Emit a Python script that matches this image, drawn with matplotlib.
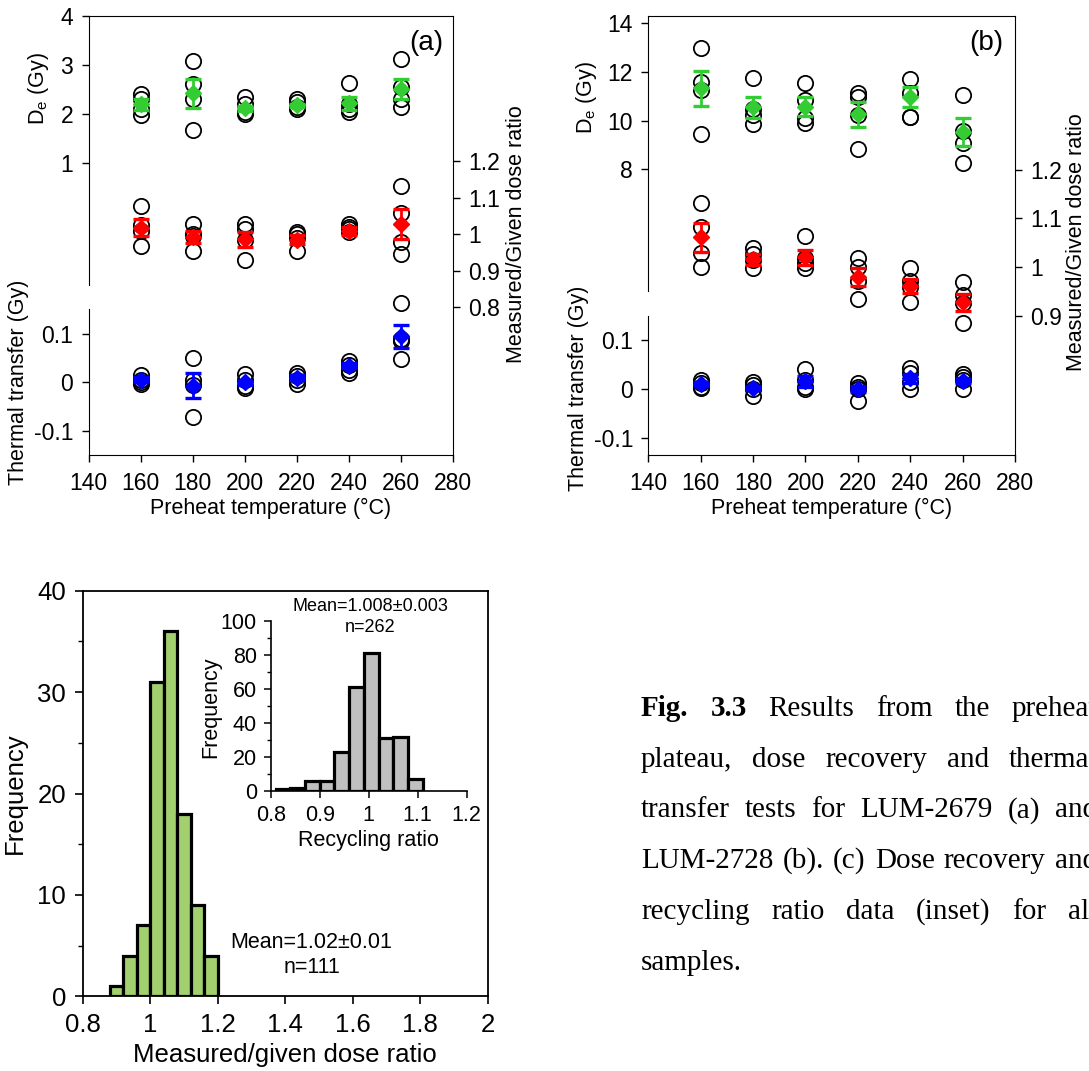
import matplotlib
matplotlib.use('Agg')
import matplotlib.pyplot as plt
from matplotlib import ticker

plt.rcParams['font.family'] = ['Liberation Sans', 'DejaVu Sans']
plt.rcParams['mathtext.default'] = 'regular'

# ---------------- data ----------------
temps = [160, 180, 200, 220, 240, 260]

# panel (a) LUM-2679
a_de_pts = [[2.40, 2.30, 2.10, 1.98], [3.09, 2.62, 2.30, 1.67], [2.34, 2.20, 2.05, 1.99],
            [2.30, 2.25, 2.15, 2.10], [2.63, 2.20, 2.10, 2.05], [3.12, 2.55, 2.30, 2.14]]
a_de_mean = [2.20, 2.42, 2.12, 2.18, 2.22, 2.51]
a_de_err = [0.11, 0.30, 0.05, 0.03, 0.13, 0.21]
a_r_pts = [[1.078, 1.025, 1.010, 0.969], [1.028, 1.000, 0.994, 0.955], [1.027, 1.015, 0.985, 0.930],
           [1.005, 1.000, 0.990, 0.955], [1.028, 1.020, 1.014, 1.005], [1.133, 1.057, 0.980, 0.945]]
a_r_mean = [1.018, 0.992, 0.986, 0.985, 1.010, 1.028]
a_r_err = [0.023, 0.016, 0.021, 0.012, 0.011, 0.041]
a_tt_pts = [[0.014, 0.005, 0.0, -0.003], [0.050, 0.005, -0.005, -0.072], [0.017, 0.005, -0.008, -0.012],
            [0.020, 0.012, 0.005, -0.003], [0.044, 0.035, 0.025, 0.020], [0.163, 0.090, 0.085, 0.048]]
a_tt_mean = [0.005, -0.0075, 0.0, 0.0095, 0.034, 0.095]
a_tt_err = [0.005, 0.026, 0.005, 0.005, 0.005, 0.024]

# panel (b) LUM-2728
b_de_pts = [[12.97, 11.60, 11.26, 9.45], [11.77, 10.50, 10.23, 9.86], [11.56, 10.85, 10.10, 9.89],
            [11.15, 10.96, 10.23, 8.85], [11.71, 11.12, 10.14, 10.14], [11.05, 9.59, 9.07, 8.27]]
b_de_mean = [11.33, 10.55, 10.58, 10.26, 10.99, 9.53]
b_de_err = [0.73, 0.42, 0.40, 0.52, 0.41, 0.58]
b_r_pts = [[1.131, 1.083, 1.029, 1.000], [1.039, 1.027, 1.015, 0.998], [1.064, 1.018, 1.008, 0.999],
           [1.018, 1.001, 0.971, 0.935], [0.999, 0.971, 0.959, 0.928], [0.969, 0.943, 0.926, 0.887]]
b_r_mean = [1.061, 1.016, 1.020, 0.980, 0.962, 0.928]
b_r_err = [0.030, 0.011, 0.016, 0.019, 0.015, 0.018]
b_tt_pts = [[0.018, 0.012, 0.005, 0.003], [0.015, 0.008, 0.0, -0.014], [0.042, 0.018, 0.005, 0.0],
            [0.013, 0.005, 0.0, -0.024], [0.044, 0.032, 0.015, 0.001], [0.031, 0.025, 0.018, 0.0]]
b_tt_mean = [0.010, 0.003, 0.016, 0.0, 0.022, 0.017]
b_tt_err = [0.004, 0.004, 0.011, 0.007, 0.009, 0.005]

# panel (c) histograms
dr_edges = [0.88, 0.92, 0.96, 1.00, 1.04, 1.08, 1.12, 1.16, 1.20]
dr_counts = [1, 4, 7, 31, 36, 18, 9, 4]
rr_edges = [0.81, 0.84, 0.87, 0.90, 0.93, 0.96, 0.99, 1.02, 1.05, 1.08, 1.11]
rr_counts = [1, 2, 6, 6, 23, 61, 81, 31, 32, 7]

caption_lines = [["Fig.", "3.3", "Results", "from", "the", "preheat"],
                 ["plateau,", "dose", "recovery", "and", "thermal"],
                 ["transfer", "tests", "for", "LUM-2679", "(a)", "and"],
                 ["LUM-2728", "(b).", "(c)", "Dose", "recovery", "and"],
                 ["recycling", "ratio", "data", "(inset)", "for", "all"],
                 ["samples."]]
caption_bold = {(0, 0), (0, 1)}

GREEN, RED, BLUE = '#33cc33', '#ff0000', '#0000ff'

# ---------------- figure ----------------
W, H = 1089, 1071
fig = plt.figure(figsize=(W / 100, H / 100), dpi=100)


def px_rect(l, t, r, b):
    return [l / W, 1 - b / H, (r - l) / W, (b - t) / H]


fmt = ticker.FuncFormatter(lambda v, p: f'{v:g}')
TICK = dict(direction='out', length=5, width=1, labelsize=16.5, pad=6)


def series(ax, pts, mean, err, color):
    for t, p in zip(temps, pts):
        ax.plot([t] * len(p), p, 'o', ms=11, mfc='none', mec='k', mew=1.3, zorder=2)
    ax.errorbar(temps, mean, yerr=err, fmt='D', ms=8.5, color=color, ecolor=color,
                elinewidth=2, capsize=6, capthick=2.4, zorder=3)


def panel(rect, de, r, tt, de_lim, de_ticks, de_bounds, r_lim, r_ticks, tt_lim, tt_bounds,
          tag, tag_xy, lab_de, lab_tt, lab_r):
    ax = fig.add_axes(rect)
    ax.set_xlim(140, 280)
    ax.set_xticks(range(140, 281, 20))
    ax.set_ylim(*de_lim)
    ax.set_yticks(de_ticks)
    ax.yaxis.set_major_formatter(fmt)
    ax.spines['left'].set_bounds(*de_bounds)
    ax.tick_params(**TICK)
    ax.tick_params(axis='x', pad=7)
    ax.set_xlabel('Preheat temperature (°C)', fontsize=15.5)
    ax.xaxis.set_label_coords(0.5, -0.098)
    ax.set_ylabel('D$_{e}$ (Gy)', fontsize=15.5)
    ax.yaxis.set_label_coords(*lab_de)
    ax.text(tag_xy[0], tag_xy[1], tag, transform=ax.transAxes, fontsize=20,
            ha='center', va='center')
    series(ax, *de, GREEN)

    axt = fig.add_axes(rect, sharex=ax)
    axt.patch.set_visible(False)
    for s in ['top', 'right', 'bottom']:
        axt.spines[s].set_visible(False)
    axt.spines['left'].set_bounds(*tt_bounds)
    axt.set_ylim(*tt_lim)
    axt.set_yticks([-0.1, 0, 0.1])
    axt.yaxis.set_major_formatter(fmt)
    axt.tick_params(**TICK)
    axt.tick_params(axis='x', bottom=False, labelbottom=False)
    axt.set_ylabel('Thermal transfer (Gy)', fontsize=15.5)
    axt.yaxis.set_label_coords(*lab_tt)
    series(axt, *tt, BLUE)

    axr = fig.add_axes(rect, sharex=ax)
    axr.patch.set_visible(False)
    for s in ['top', 'left', 'bottom', 'right']:
        axr.spines[s].set_visible(False)
    axr.yaxis.tick_right()
    axr.yaxis.set_label_position('right')
    axr.set_ylim(*r_lim)
    axr.set_yticks(r_ticks)
    axr.yaxis.set_major_formatter(fmt)
    axr.tick_params(**TICK)
    axr.tick_params(axis='x', bottom=False, labelbottom=False)
    axr.set_ylabel('Measured/Given dose ratio', fontsize=15.5)
    axr.yaxis.set_label_coords(*lab_r)
    series(axr, *r, RED)


panel(px_rect(88.5, 16, 453, 455),
      (a_de_pts, a_de_mean, a_de_err), (a_r_pts, a_r_mean, a_r_err), (a_tt_pts, a_tt_mean, a_tt_err),
      (-4.96, 4.0), [1, 2, 3, 4], (-1.5, 4.0),
      (0.395, 1.598), [0.8, 0.9, 1.0, 1.1, 1.2],
      (-0.15, 0.755), (-0.15, 0.15),
      '(a)', (0.926, 0.938), (-0.103, 0.834), (-0.163, 0.166), (1.145, 0.503))

panel(px_rect(648.3, 16, 1015, 455),
      (b_de_pts, b_de_mean, b_de_err), (b_r_pts, b_r_mean, b_r_err), (b_tt_pts, b_tt_mean, b_tt_err),
      (-3.73, 14.3), [8, 10, 12, 14], (3.0, 14.3),
      (0.616, 1.514), [0.9, 1.0, 1.1, 1.2],
      (-0.135, 0.764), (-0.135, 0.15),
      '(b)', (0.922, 0.938), (-0.134, 0.815), (-0.162, 0.153), (1.140, 0.485))

# ---------------- panel (c) ----------------
axc = fig.add_axes(px_rect(82.7, 590.7, 487.7, 996.3))
axc.bar(dr_edges[:-1], dr_counts, width=[b - a for a, b in zip(dr_edges[:-1], dr_edges[1:])],
        align='edge', color='#a3d06e', edgecolor='k', linewidth=2.3, zorder=2)
axc.set_xlim(0.8, 2.0)
axc.set_ylim(0, 40)
axc.set_xticks([0.8, 1.0, 1.2, 1.4, 1.6, 1.8, 2.0])
axc.set_yticks([0, 10, 20, 30, 40])
axc.set_yticks([5, 15, 25, 35], minor=True)
axc.xaxis.set_major_formatter(fmt)
axc.tick_params(direction='out', length=6, width=1.2, labelsize=18.5, pad=6)
axc.tick_params(which='minor', direction='out', length=3.5, width=1.0)
for s in axc.spines.values():
    s.set_linewidth(1.3)
axc.set_xlabel('Measured/given dose ratio', fontsize=18.5, labelpad=4)
axc.set_ylabel('Frequency', fontsize=18.5)
axc.yaxis.set_label_coords(-0.1375, 0.5)
axc.text(0.565, 0.132, 'Mean=1.02±0.01', transform=axc.transAxes, fontsize=15.5,
         ha='center', va='center')
axc.text(0.565, 0.070, 'n=111', transform=axc.transAxes, fontsize=15.5,
         ha='center', va='center')

axi = fig.add_axes(px_rect(270.7, 620.7, 466.7, 791))
axi.bar(rr_edges[:-1], rr_counts, width=[b - a for a, b in zip(rr_edges[:-1], rr_edges[1:])],
        align='edge', color='#c0c0c0', edgecolor='k', linewidth=2.3, zorder=2)
axi.set_xlim(0.8, 1.2)
axi.set_ylim(0, 100)
axi.set_xticks([0.8, 0.9, 1.0, 1.1, 1.2])
axi.set_yticks([0, 20, 40, 60, 80, 100])
axi.set_yticks([10, 30, 50, 70, 90], minor=True)
axi.xaxis.set_major_formatter(fmt)
axi.spines['top'].set_visible(False)
axi.spines['right'].set_visible(False)
for s in ['left', 'bottom']:
    axi.spines[s].set_linewidth(1.2)
axi.tick_params(direction='out', length=5, width=1.1, labelsize=15.5, pad=5)
axi.tick_params(which='minor', direction='out', length=3, width=1.0)
axi.set_xlabel('Recycling ratio', fontsize=15.5, labelpad=3)
axi.set_ylabel('Frequency', fontsize=15.5)
axi.yaxis.set_label_coords(-0.25, 0.493)
fig.text(370 / W, 1 - 606.7 / H, 'Mean=1.008±0.003', fontsize=13, ha='center', va='center')
fig.text(370 / W, 1 - 627 / H, 'n=262', fontsize=13, ha='center', va='center')

# ---------------- caption (justified, runs past the right edge as in the source) ----------------
renderer = fig.canvas.get_renderer()
x0, x1 = 641, 1097
for i, words in enumerate(caption_lines):
    ybase = 716 + 50.7 * i
    objs = []
    for j, w in enumerate(words):
        t = fig.text(0, 1 - ybase / H, w, fontsize=21, family='Liberation Serif',
                     weight='bold' if (i, j) in caption_bold else 'normal',
                     ha='left', va='baseline')
        objs.append(t)
    widths = [o.get_window_extent(renderer).width for o in objs]
    if i < len(caption_lines) - 1 and len(words) > 1:
        gap = (x1 - x0 - sum(widths)) / (len(words) - 1)
    else:
        gap = 6
    x = x0
    for o, wd in zip(objs, widths):
        o.set_x(x / W)
        x += wd + gap

fig.savefig('out.png', dpi=100)
